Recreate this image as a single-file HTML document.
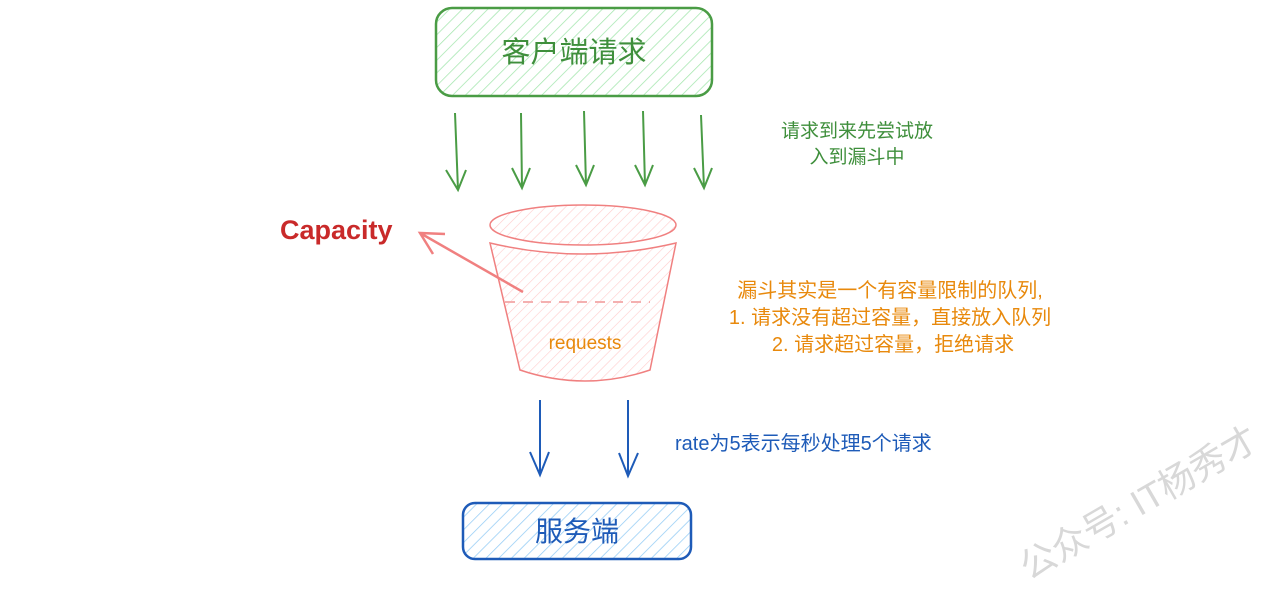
<!DOCTYPE html>
<html><head><meta charset="utf-8"><style>
body{margin:0;width:1280px;height:584px;background:#fff;overflow:hidden}
svg text{font-family:"Liberation Sans","Noto Sans CJK SC",sans-serif}
</style></head><body>
<svg width="1280" height="584" viewBox="0 0 1280 584" xmlns="http://www.w3.org/2000/svg">
<defs>
<pattern id="hg" width="9" height="9" patternUnits="userSpaceOnUse" patternTransform="rotate(45)"><line x1="0" y1="0" x2="0" y2="9" stroke="#a3e6ad" stroke-width="1.5"/></pattern>
<pattern id="hb" width="9" height="9" patternUnits="userSpaceOnUse" patternTransform="rotate(45)"><line x1="0" y1="0" x2="0" y2="9" stroke="#94ccf5" stroke-width="1.5"/></pattern>
<pattern id="hr" width="7" height="7" patternUnits="userSpaceOnUse" patternTransform="rotate(45)"><line x1="0" y1="0" x2="0" y2="7" stroke="#ffcccc" stroke-width="1.2"/></pattern>
</defs>
<rect x="436" y="8" width="276" height="88" rx="16" fill="url(#hg)" stroke="#4a9c45" stroke-width="2.5"/>
<text x="574" y="62" text-anchor="middle" font-size="29" fill="#3f8f3c">客户端请求</text>
<g stroke="#4a9c45" stroke-width="2" fill="none">
<path d="M455 113 L458 190 M446 170 L458 190 L466 170"/>
<path d="M521 113 L522 188 M512 168 L522 188 L530 168"/>
<path d="M584 111 L586 185 M576 165 L586 185 L594 165"/>
<path d="M643 111 L645 185 M635 165 L645 185 L653 165"/>
<path d="M701 115 L704 188 M694 168 L704 188 L712 168"/>
</g>
<text x="857" y="137" text-anchor="middle" font-size="19" fill="#3f8f3c">请求到来先尝试放</text>
<text x="857" y="163" text-anchor="middle" font-size="19" fill="#3f8f3c">入到漏斗中</text>
<ellipse cx="583" cy="225" rx="93" ry="20" fill="url(#hr)" stroke="#f08080" stroke-width="1.5"/>
<path d="M490 243 Q583 265 676 243 L650 370 Q585 392 520 370 Z" fill="url(#hr)" stroke="#f08080" stroke-width="1.5"/>
<line x1="505" y1="302" x2="650" y2="302" stroke="#f4b0b0" stroke-width="2" stroke-dasharray="10 8"/>
<text x="585" y="349" text-anchor="middle" font-size="19" fill="#e8890c">requests</text>
<path d="M523 292 L420 233 M433 254 L420 233 L445 234" stroke="#f08080" stroke-width="2.5" fill="none"/>
<text x="280" y="239" font-size="27" font-weight="bold" fill="#c92a2a">Capacity</text>
<text x="890" y="297" text-anchor="middle" font-size="20" fill="#e8890c">漏斗其实是一个有容量限制的队列,</text>
<text x="890" y="324" text-anchor="middle" font-size="20" fill="#e8890c">1. 请求没有超过容量，直接放入队列</text>
<text x="893" y="351" text-anchor="middle" font-size="20" fill="#e8890c">2. 请求超过容量，拒绝请求</text>
<g stroke="#1e5bb8" stroke-width="2" fill="none">
<path d="M540 400 L540 475 M530 452 L540 475 L549 452"/>
<path d="M628 400 L628 476 M619 453 L628 476 L638 453"/>
</g>
<text x="675" y="450" font-size="20" fill="#1e5bb8">rate为5表示每秒处理5个请求</text>
<rect x="463" y="503" width="228" height="56" rx="12" fill="url(#hb)" stroke="#1e5bb8" stroke-width="2.5"/>
<text x="577" y="541" text-anchor="middle" font-size="28" fill="#1e5bb8">服务端</text>
<text x="1140" y="515" text-anchor="middle" font-size="36" fill="#d8d8d8" transform="rotate(-30 1140 505)">公众号: IT杨秀才</text>
</svg>
</body></html>
